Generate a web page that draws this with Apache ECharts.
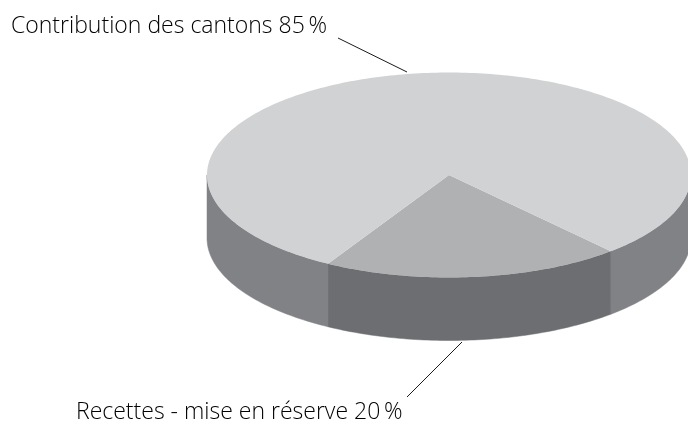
<!DOCTYPE html>
<html>
<head>
<meta charset="utf-8">
<style>html,body{margin:0;padding:0;background:#fff}#c{width:688px;height:423px}</style>
<script src="https://cdn.jsdelivr.net/npm/echarts@6/dist/echarts.min.js"></script>
</head>
<body>
<div id="c"></div>
<script>
const categories = ['Recettes - mise en réserve', 'Contribution des cantons'];
const labelPercents = [20, 85];          // numbers printed on the labels
const sliceShares = [20, 80];            // shares as drawn by the wedges
const topColors = ['#b0b1b3', '#d1d2d4'];
const sideColors = ['#6d6e71', '#808285'];

const CX = 449, CY = 175, RX = 242, RY = 102.5, DEPTH = 63, START = 48;
const total = sliceShares.reduce((a, b) => a + b, 0);
const rad = d => d * Math.PI / 180;
const pt = (a, dy) => [CX + RX * Math.cos(rad(a)), CY + dy + RY * Math.sin(rad(a))];

function arc(a0, a1, dy) {
  const n = Math.max(2, Math.ceil(Math.abs(a1 - a0)));
  const out = [];
  for (let i = 0; i <= n; i++) out.push(pt(a0 + (a1 - a0) * i / n, dy));
  return out;
}
function slicePolys(i) {
  let a0 = START;
  for (let k = 0; k < i; k++) a0 += sliceShares[k] / total * 360;
  const a1 = a0 + sliceShares[i] / total * 360;
  const sides = [];
  // only the front half (0..180 degrees, and its 360 wrap) of the rim is visible
  [[0, 180], [360, 540]].forEach(([lo, hi]) => {
    const s = Math.max(a0, lo), e = Math.min(a1, hi);
    if (e > s) sides.push(arc(s, e, 0).concat(arc(e, s, DEPTH)));
  });
  return { top: [[CX, CY]].concat(arc(a0, a1, 0)), sides };
}

const chart = echarts.init(document.getElementById('c'), null, { renderer: 'canvas' });
const FONT = '300 23px "Open Sans", "Noto Sans", sans-serif';
chart.setOption({
  animation: false,
  backgroundColor: '#fff',
  graphic: [
    { type: 'line', shape: { x1: 338, y1: 38, x2: 407, y2: 72 }, style: { stroke: '#1a1a1a', lineWidth: 1 } },
    { type: 'line', shape: { x1: 462, y1: 342, x2: 407, y2: 397 }, style: { stroke: '#1a1a1a', lineWidth: 1 } },
    { type: 'text', x: 11, y: 26, style: { text: categories[1] + ' ' + labelPercents[1] + '\u2009%', font: FONT, fill: '#000', textVerticalAlign: 'middle' } },
    { type: 'text', x: 76, y: 412, style: { text: categories[0] + ' ' + labelPercents[0] + '\u2009%', font: FONT, fill: '#000', textVerticalAlign: 'middle' } }
  ],
  series: [{
    type: 'custom',
    coordinateSystem: 'none',
    clip: false,
    silent: true,
    data: sliceShares.map((v, i) => [i, v]),
    renderItem(params, api) {
      const i = api.value(0);
      const p = slicePolys(i);
      const children = p.sides.map(s => ({
        type: 'polygon', shape: { points: s }, style: { fill: sideColors[i], stroke: sideColors[i], lineWidth: 0.5 }
      }));
      children.push({ type: 'polygon', shape: { points: p.top }, style: { fill: topColors[i] } });
      return { type: 'group', children };
    }
  }]
});
</script>
</body>
</html>
